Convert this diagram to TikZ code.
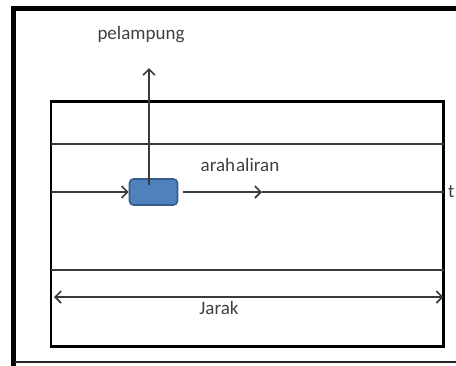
\documentclass[tikz,border=0pt]{standalone}
\usepackage{fontspec}
\setmainfont{Carlito}
\usetikzlibrary{arrows.meta}
\definecolor{lineg}{HTML}{3A3A3A}
\definecolor{txtg}{HTML}{404040}
\definecolor{floatfill}{HTML}{4F81BD}
\definecolor{floatdraw}{HTML}{385D8A}
\tikzset{
  barb/.tip={Straight Barb[length=6pt,width=12pt,line width=1.6pt]},
  flowline/.style={draw=lineg, line width=1.7pt},
  opentip/.style={-barb},
  lbl/.style={text=txtg, font=\fontsize{19}{22}\selectfont, inner sep=0pt},
  floatbox/.style={draw=floatdraw, line width=1.6pt, fill=floatfill, rounded corners=4pt, minimum width=48pt, minimum height=26pt, inner sep=0pt},
}
\begin{document}
\begin{tikzpicture}[x=1pt,y=-1pt]
\useasboundingbox (0,0) rectangle (456,365);
% outer frame
\draw[black, line width=5pt] (460,8.5) -- (13,8.5) -- (13,367);
\draw[black!85, line width=1.6pt] (15,362) -- (460,362);
% channel
\draw[black, line width=2.3pt] (51,101.5) rectangle (443.5,346.5);
\coordinate (topL) at (51,144);
\coordinate (topR) at (443.5,144);
\coordinate (botL) at (51,270);
\coordinate (botR) at (443.5,270);
\draw[flowline] (topL) -- (topR);
\draw[flowline] (botL) -- (botR);
% float
\node[floatbox] (float) at (153.5,192) {};
\coordinate (inL) at (51,192);
\coordinate (outR) at (443.5,192);
\coordinate (mid) at (262,192);
\coordinate (stem) at (149,185);
\coordinate (tip) at (149,68);
\draw[flowline, opentip] (inL) -- (float.west);
\draw[flowline, opentip] ([xshift=5pt]float.east) -- (mid);
\draw[flowline] (mid) -- (outR);
\draw[flowline, opentip] (stem) -- (tip);
% distance arrow
\coordinate (jL) at (54,297);
\coordinate (jR) at (443.5,297);
\draw[flowline, barb-barb] (jL) -- (jR);
% labels
\node[lbl] (pel) at (141,35) {pelampung};
\node[lbl] (arah) at (240,165) {arah\hspace{1pt}aliran};
\node[lbl] (jarak) at (219,308) {Jarak};
\node[lbl, anchor=west] (tlbl) at (448,192) {t};
\end{tikzpicture}
\end{document}
